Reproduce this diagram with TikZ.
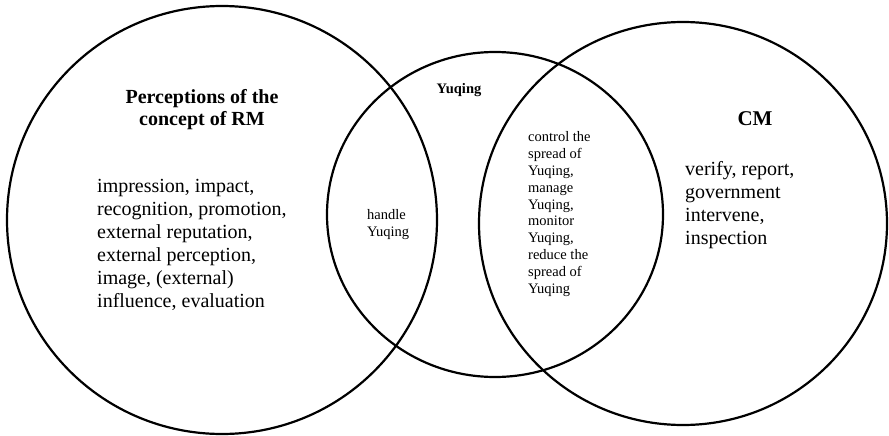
\documentclass[tikz,border=0pt]{standalone}
\usepackage{fontspec}
\setmainfont{Liberation Serif}
\begin{document}
\begin{tikzpicture}[x=1pt,y=-1pt,
  ring/.style={draw=black,line width=2.2pt},
  bigtxt/.style={inner sep=0pt,align=left,font=\fontsize{20}{23}\selectfont},
  bigtitle/.style={inner sep=0pt,align=center,font=\fontsize{20}{22}\selectfont\bfseries},
  smalltxt/.style={inner sep=0pt,align=left,font=\fontsize{14.5}{16.8}\selectfont},
  smalltitle/.style={inner sep=0pt,font=\fontsize{14.5}{16.8}\selectfont\bfseries}]
\useasboundingbox (0,0) rectangle (889,436);
\draw[ring] (222,220) ellipse [x radius=215, y radius=214];
\draw[ring] (495,214.5) ellipse [x radius=168, y radius=162.5];
\draw[ring] (683,223.5) ellipse [x radius=204, y radius=201.5];
\node[bigtitle,anchor=north] (rmtitle) at (202,89.5) {Perceptions of the\\concept of RM};
\node[bigtxt,anchor=north west] (rmtext) at (97,179.5) {impression, impact,\\recognition, promotion,\\external reputation,\\external perception,\\image, (external)\\influence, evaluation};
\node[smalltitle,anchor=north] (yqtitle) at (459,83.7) {Yuqing};
\node[smalltxt,anchor=north west] (handle) at (367,209.5) {handle\\Yuqing};
\node[smalltxt,anchor=north west] (ctrl) at (528,131.6) {control the\\spread of\\Yuqing,\\manage\\Yuqing,\\monitor\\Yuqing,\\reduce the\\spread of\\Yuqing};
\node[inner sep=0pt,anchor=north,font=\fontsize{21}{23}\selectfont\bfseries] (cmtitle) at (755,111) {CM};
\node[bigtxt,anchor=north west] (cmtext) at (685,161.3) {verify, report,\\government\\intervene,\\inspection};
\end{tikzpicture}
\end{document}
